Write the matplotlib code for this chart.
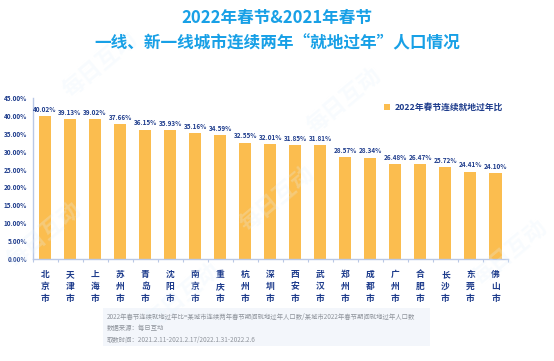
import matplotlib
matplotlib.use("Agg")
import matplotlib.pyplot as plt
import numpy as np

plt.rcParams["font.family"] = ["Noto Sans CJK SC", "DejaVu Sans"]

CITIES = ["北京市", "天津市", "上海市", "苏州市", "青岛市", "沈阳市", "南京市",
          "重庆市", "杭州市", "深圳市", "西安市", "武汉市", "郑州市", "成都市",
          "广州市", "合肥市", "长沙市", "东莞市", "佛山市"]
RATIO = [40.02, 39.13, 39.02, 37.66, 36.15, 35.93, 35.16, 34.59, 32.55, 32.01,
         31.85, 31.81, 28.57, 28.34, 26.48, 26.47, 25.72, 24.41, 24.10]
YTICKS = [0, 5, 10, 15, 20, 25, 30, 35, 40, 45]
SERIES = "2022年春节连续就地过年比"
TITLE1 = "2022年春节&2021年春节"
TITLE2 = "一线、新一线城市连续两年“就地过年”人口情况"
NOTES = ["2022年春节连续就地过年比=某城市连续两年春节期间就地过年人口数/某城市2022年春节期间就地过年人口数",
         "数据来源：每日互动",
         "取数时间：2021.2.11-2021.2.17/2022.1.31-2022.2.6"]

BAR = "#fbbd4f"
NAVY = "#1e3c8c"
TITLE_C = "#18a0e6"
AXIS_C = "#b9c8e6"

fig = plt.figure(figsize=(5.54, 3.61), dpi=100)
ax = fig.add_axes([0.0587, 0.2825, 0.8583, 0.446])

x = np.arange(len(CITIES))
ax.bar(x, RATIO, width=0.48, color=BAR, label=SERIES, zorder=2)
for xi, v in zip(x, RATIO):
    ax.text(xi, v + 0.9, f"{v:.2f}%", ha="center", va="bottom", fontsize=4.6,
            color=NAVY, fontweight="bold")

ax.set_xlim(-0.5, len(CITIES) - 0.5)
ax.set_ylim(0, 45)
ax.set_yticks(YTICKS)
ax.set_yticklabels([f"{t:.2f}%" for t in YTICKS], fontsize=4.6, color=NAVY,
                   fontweight="bold")
ax.tick_params(axis="y", length=0, pad=4)

ax.set_xticks(x)
ax.set_xticklabels(["\n".join(c) for c in CITIES], fontsize=6.3, color=NAVY,
                   fontweight="bold", linespacing=1.45)
ax.set_xticks(np.arange(len(CITIES) + 1) - 0.5, minor=True)
ax.tick_params(axis="x", which="major", length=0, pad=8)
ax.tick_params(axis="x", which="minor", length=2.5, color=AXIS_C, width=0.8)

for side in ["top", "right"]:
    ax.spines[side].set_visible(False)
for side in ["left", "bottom"]:
    ax.spines[side].set_color(AXIS_C)
    ax.spines[side].set_linewidth(1.0)

leg = ax.legend(loc="upper right", bbox_to_anchor=(1.0, 1.0), frameon=False,
                fontsize=6.3, handlelength=0.7, handleheight=0.7, handletextpad=0.5,
                borderaxespad=0.2)
for t in leg.get_texts():
    t.set_color(NAVY)
    t.set_fontweight("bold")

fig.text(0.5, 1 - 18 / 361, TITLE1, ha="center", va="center", fontsize=12,
         fontweight="bold", color=TITLE_C)
fig.text(0.5, 1 - 43 / 361, TITLE2, ha="center", va="center", fontsize=12,
         fontweight="bold", color=TITLE_C)

# note box
box = plt.Rectangle((103 / 554, 1 - 346 / 361), 327 / 554, 38 / 361,
                    transform=fig.transFigure, facecolor="#f3f6fb", edgecolor="none",
                    zorder=0)
fig.patches.append(box)
for i, line in enumerate(NOTES):
    fig.text(107 / 554, 1 - (317 + i * 11.3) / 361, line, ha="left", va="center",
             fontsize=4.6, color="#8f949c")

# faint watermarks
for wx, wy in [(0.18, 0.82), (0.62, 0.72), (0.33, 0.18), (0.92, 0.3), (0.5, 0.45), (0.08, 0.35)]:
    fig.text(wx, wy, "每日互动", fontsize=16, color="#e3f2fd", alpha=0.25,
             rotation=40, ha="center", va="center", fontweight="bold", zorder=0)

fig.savefig("out.png", dpi=100)
